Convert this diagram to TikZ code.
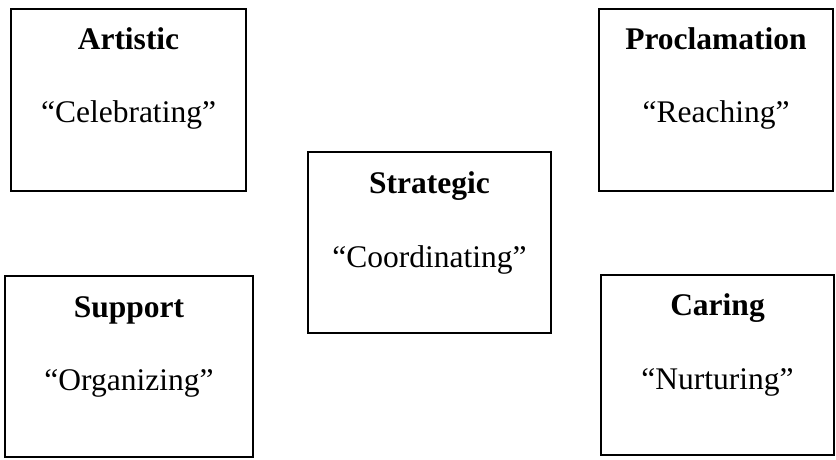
\documentclass[tikz,border=0pt]{standalone}
\usepackage{fontspec}
\setmainfont{Liberation Serif}
\begin{document}
\begin{tikzpicture}[x=1pt,y=-1pt,
  box/.style={draw, line width=2pt, inner sep=0pt},
  ttl/.style={font=\fontsize{31.5}{36}\selectfont\bfseries, anchor=base, inner sep=0pt},
  sub/.style={font=\fontsize{31.5}{36}\selectfont, anchor=base, inner sep=0pt}]
\useasboundingbox (0,0) rectangle (836,460);
% Artistic
\node[box, minimum width=235pt, minimum height=182pt] (art) at (128.5,100) {};
\node[ttl] (artT) at (128.5,50) {Artistic};
\node[sub] (artS) at (128.5,122) {“Celebrating”};
% Proclamation
\node[box, minimum width=234pt, minimum height=182pt] (pro) at (716,100) {};
\node[ttl] (proT) at (716,50) {Proclamation};
\node[sub] (proS) at (716,122) {“Reaching”};
% Strategic
\node[box, minimum width=243pt, minimum height=181pt] (str) at (429.5,242.5) {};
\node[ttl] (strT) at (429.5,193) {Strategic};
\node[sub] (strS) at (429.5,267) {“Coordinating”};
% Support
\node[box, minimum width=248pt, minimum height=181pt] (sup) at (129,366.5) {};
\node[ttl] (supT) at (129,317) {Support};
\node[sub] (supS) at (129,390) {“Organizing”};
% Caring
\node[box, minimum width=233pt, minimum height=180pt] (car) at (717.5,365) {};
\node[ttl] (carT) at (717.5,315) {Caring};
\node[sub] (carS) at (717.5,389) {“Nurturing”};
\end{tikzpicture}
\end{document}
